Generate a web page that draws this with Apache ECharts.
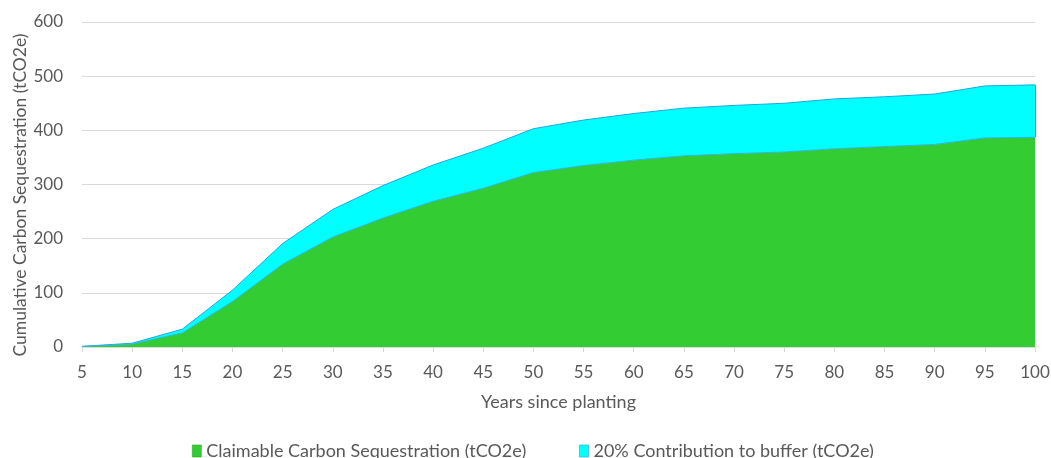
<!DOCTYPE html>
<html>
<head>
<meta charset="utf-8">
<script src="https://cdn.jsdelivr.net/npm/echarts@6/dist/echarts.min.js"></script>
<style>
  html, body { margin: 0; padding: 0; background: #fff; }
  #chart { width: 1051px; height: 458px; }
</style>
</head>
<body>
<div id="chart"></div>
<script>
// Years since planting
const years = ['5', '10', '15', '20', '25', '30', '35', '40', '45', '50',
               '55', '60', '65', '70', '75', '80', '85', '90', '95', '100'];

// Claimable carbon sequestration, cumulative (tCO2e)
const claimable = [1, 5.5, 26, 84, 153, 203, 238, 269, 293, 322,
                   335, 345, 353, 357, 360, 366, 370, 374, 386, 387];

// 20% contribution to the buffer, cumulative (tCO2e)
const buffer = [0.2, 1.5, 7, 21, 38, 51, 60, 67, 74, 81,
                84, 86, 88, 89, 90, 92, 92, 93, 96, 97];

const yTicks = { min: 0, max: 600, interval: 100 };

const FONT = 'Lato, "Open Sans", sans-serif';
const TEXT = '#595959';
const EDGE = '#1fa7d8';

const last = years.length - 1;

const chart = echarts.init(document.getElementById('chart'), null, { renderer: 'canvas' });

chart.setOption({
  animation: false,
  textStyle: { fontFamily: FONT },
  grid: { left: 82, right: 16, top: 22, bottom: 111, containLabel: false, outerBoundsMode: 'none' },
  // vertical value-axis title
  graphic: [{
    type: 'text',
    x: 20,
    y: 195,
    rotation: Math.PI / 2,
    silent: true,
    style: {
      text: 'Cumulative Carbon Sequestration (tCO2e)',
      font: '17.5px ' + FONT,
      fill: TEXT,
      align: 'center',
      verticalAlign: 'middle'
    }
  }],
  legend: {
    top: 437,
    left: 187,
    itemWidth: 9,
    itemHeight: 12,
    itemGap: 53,
    icon: 'rect',
    textStyle: { fontFamily: FONT, fontSize: 18, color: TEXT },
    data: [
      { name: 'Claimable Carbon Sequestration (tCO2e)', itemStyle: { color: '#33cc33', borderColor: '#2aa82a', borderWidth: 0.6 } },
      { name: '20% Contribution to buffer (tCO2e)', itemStyle: { color: '#00ffff', borderColor: EDGE, borderWidth: 0.6 } }
    ]
  },
  xAxis: {
    type: 'category',
    data: years,
    boundaryGap: false,
    name: 'Years since planting',
    nameLocation: 'middle',
    nameGap: 46,
    nameTextStyle: { fontFamily: FONT, fontSize: 18, color: TEXT },
    axisLine: { lineStyle: { color: '#d9d9d9', width: 1 } },
    axisTick: { show: true, length: 5, lineStyle: { color: '#d9d9d9' } },
    axisLabel: { fontFamily: FONT, fontSize: 17, color: TEXT, margin: 17 },
    splitLine: { show: false }
  },
  yAxis: {
    type: 'value',
    min: yTicks.min,
    max: yTicks.max,
    interval: yTicks.interval,
    axisLine: { show: false },
    axisTick: { show: false },
    axisLabel: { fontFamily: FONT, fontSize: 17, color: TEXT, margin: 19 },
    splitLine: { lineStyle: { color: '#d9d9d9', width: 1 } }
  },
  series: [
    {
      name: 'Claimable Carbon Sequestration (tCO2e)',
      type: 'line',
      stack: 'total',
      data: claimable,
      symbol: 'none',
      lineStyle: { color: '#2bb6e6', width: 1 },
      areaStyle: { color: '#33cc33', opacity: 1 },
      itemStyle: { color: '#33cc33' },
      z: 3
    },
    {
      name: '20% Contribution to buffer (tCO2e)',
      type: 'line',
      stack: 'total',
      data: buffer,
      symbol: 'none',
      lineStyle: { color: EDGE, width: 1 },
      areaStyle: { color: '#00ffff', opacity: 1 },
      itemStyle: { color: '#00ffff' },
      // outline on the closing edge of the buffer band
      markLine: {
        silent: true,
        symbol: 'none',
        label: { show: false },
        lineStyle: { color: EDGE, width: 1, type: 'solid' },
        data: [[
          { coord: [years[last], claimable[last]] },
          { coord: [years[last], claimable[last] + buffer[last]] }
        ]]
      },
      z: 2
    }
  ]
});
</script>
</body>
</html>
